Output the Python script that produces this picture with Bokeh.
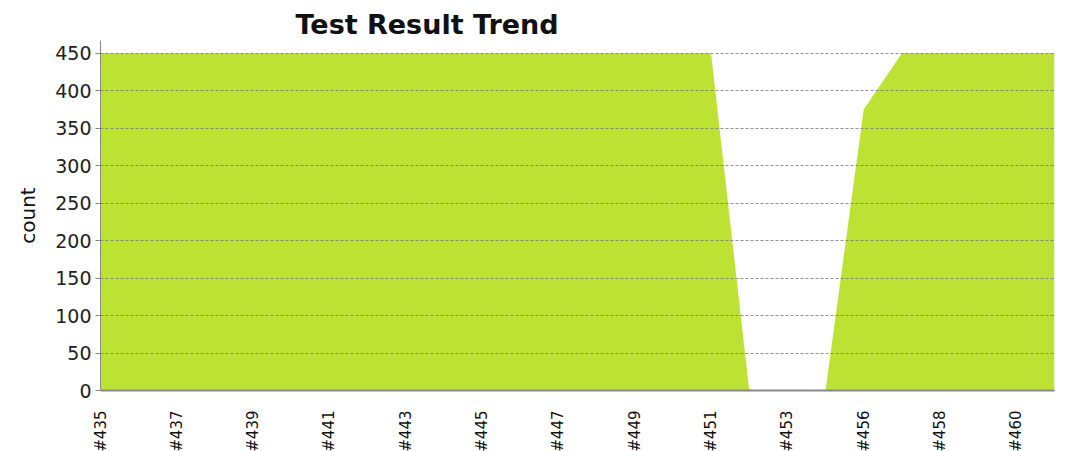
import math
from bokeh.plotting import figure
from bokeh.models import FixedTicker, Range1d
from bokeh.embed import file_html
from bokeh.resources import INLINE

builds = ["#435", "#436", "#437", "#438", "#439", "#440", "#441", "#442", "#443",
          "#444", "#445", "#446", "#447", "#448", "#449", "#450", "#451", "#452",
          "#453", "#455", "#456", "#457", "#458", "#459", "#460", "#461"]
counts = [450, 450, 450, 450, 450, 450, 450, 450, 450,
          450, 450, 450, 450, 450, 450, 450, 450, 0,
          0, 0, 375, 450, 450, 450, 450, 450]
y_ticks = [0, 50, 100, 150, 200, 250, 300, 350, 400, 450]

idx = list(range(len(builds)))

p = figure(frame_width=954, frame_height=350, output_backend="svg",
           toolbar_location=None, title="Test Result Trend",
           x_range=Range1d(0, len(builds) - 1), y_range=Range1d(0, 467),
           min_border_left=100, min_border_top=40, min_border_right=2,
           min_border_bottom=10)
p.outline_line_color = None
p.background_fill_color = "white"

p.varea(x=idx, y1=0, y2=counts, fill_color="#BEE234")

p.title.text_font = "DejaVu Sans"
p.title.text_font_size = "27px"
p.title.text_font_style = "bold"
p.title.text_color = "#111111"
p.title.align = "left"
p.title.offset = 195
p.title.standoff = 2

p.xgrid.visible = False
p.ygrid.ticker = FixedTicker(ticks=y_ticks)
p.ygrid.grid_line_color = "#777777"
p.ygrid.grid_line_alpha = 0.8
p.ygrid.grid_line_dash = "3 2"
p.ygrid.level = "overlay"

p.xaxis.ticker = FixedTicker(ticks=idx[::2])
p.xaxis.major_label_overrides = {i: builds[i] for i in idx}
p.xaxis.major_label_orientation = math.pi / 2
p.xaxis.major_label_text_font = "DejaVu Sans"
p.xaxis.major_label_text_font_size = "15px"
p.xaxis.major_label_text_color = "#111111"
p.xaxis.major_tick_line_color = None
p.xaxis.minor_tick_line_color = None
p.xaxis.major_label_standoff = 14
p.xaxis.axis_line_color = "#888888"
p.xaxis.axis_line_width = 2

p.yaxis.ticker = FixedTicker(ticks=y_ticks)
p.yaxis.axis_label = "count"
p.yaxis.axis_label_text_font = "DejaVu Sans"
p.yaxis.axis_label_text_font_size = "20px"
p.yaxis.axis_label_text_font_style = "normal"
p.yaxis.axis_label_text_color = "#111111"
p.yaxis.axis_label_standoff = 12
p.yaxis.major_label_text_font = "DejaVu Sans"
p.yaxis.major_label_text_font_size = "19px"
p.yaxis.major_label_text_color = "#222222"
p.yaxis.major_label_standoff = 4
p.yaxis.major_tick_out = 5
p.yaxis.major_tick_in = 0
p.yaxis.minor_tick_line_color = None
p.yaxis.major_tick_line_color = "#888888"
p.yaxis.axis_line_color = "#888888"

open("out.html", "w").write(file_html(p, INLINE))
